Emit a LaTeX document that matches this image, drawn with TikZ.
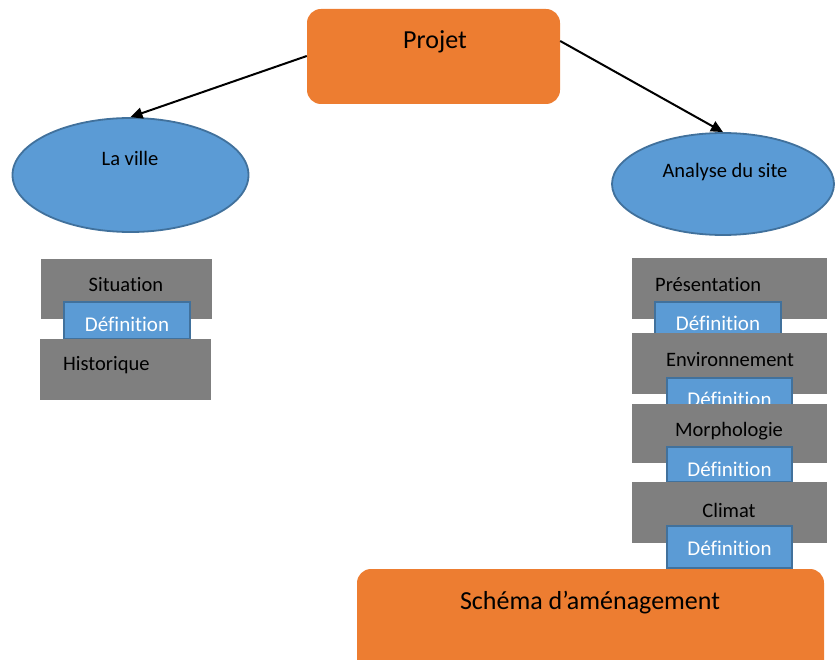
\documentclass[tikz,border=0pt]{standalone}
\usepackage{fontspec}
\setmainfont{Carlito}[Ligatures=NoCommon]
\usetikzlibrary{shapes.geometric,arrows.meta}
\definecolor{orangeF}{HTML}{ED7D31}
\definecolor{blueF}{HTML}{5B9BD5}
\definecolor{blueD}{HTML}{41719C}
\definecolor{grayF}{HTML}{7F7F7F}
\tikzset{
  orangebox/.style={fill=orangeF,draw=none,rounded corners=14pt,inner sep=0pt},
  oval/.style={ellipse,fill=blueF,draw=blueD,line width=1.8pt,inner sep=0pt},
  graybox/.style={fill=grayF,draw=none,inner sep=0pt},
  defbox/.style={fill=blueF,draw=blueD,line width=1.2pt,inner sep=0pt},
  bigtxt/.style={font=\fontsize{26}{30}\selectfont,text=black,inner sep=0pt},
  midtxt/.style={font=\fontsize{20.5}{24}\selectfont,text=black,inner sep=0pt},
  deftxt/.style={font=\fontsize{21}{24}\selectfont,text=white,inner sep=0pt},
  arr/.style={-{Triangle[length=12pt,width=11pt]},line width=2pt,black}
}
\begin{document}
\begin{tikzpicture}[x=1pt,y=-1pt]
\useasboundingbox (0,0) rectangle (835,660);
\begin{scope}
\clip (0,0) rectangle (835,660);
% Projet
\node[orangebox,minimum width=253pt,minimum height=95pt] (projet) at (433.5,56.5) {};
\node[bigtxt] (projett) at (435,42) {Projet};
% ellipses
\node[oval,minimum width=236pt,minimum height=114pt] (ville) at (130.5,175) {};
\node[midtxt] (villet) at (130,158) {La ville};
\node[oval,minimum width=222pt,minimum height=102pt] (site) at (723,184) {};
\node[midtxt] (sitet) at (725,172) {Analyse du site};
% arrows
\draw[arr] (projet.west |- 0,56) -- (ville.north);
\draw[arr] (projet.east |- 0,41) -- (site.north);
% left column
\node[graybox,minimum width=171pt,minimum height=60pt] (situation) at (126.5,289) {};
\node[midtxt] (situationt) at (126,285) {Situation};
\node[defbox,minimum width=126pt,minimum height=37pt] (def0) at (127,320.5) {};
\node[deftxt] (def0t) at (127,324) {Définition};
\node[graybox,minimum width=171pt,minimum height=61pt] (historique) at (125.5,369.5) {};
\node[midtxt,anchor=west] (historiquet) at (63,365) {Historique};
% right column
\node[graybox,minimum width=195pt,minimum height=61pt] (presentation) at (729.5,288.5) {};
\node[midtxt,anchor=west] (presentationt) at (655,285) {Présentation};
\node[defbox,minimum width=126pt,minimum height=36pt] (def1) at (718,320) {};
\node[deftxt] (def1t) at (718,323) {Définition};
\node[graybox,minimum width=195pt,minimum height=61pt] (environnement) at (729.5,363.5) {};
\node[midtxt] (environnementt) at (730,360) {Environnement};
\node[defbox,minimum width=125pt,minimum height=36pt] (def2) at (729.5,396) {};
\node[deftxt] (def2t) at (729.5,399) {Définition};
\node[graybox,minimum width=195pt,minimum height=59pt] (morphologie) at (729.5,433.5) {};
\node[midtxt] (morphologiet) at (729,431) {Morphologie};
\node[defbox,minimum width=125pt,minimum height=35pt] (def3) at (729.5,464.5) {};
\node[deftxt] (def3t) at (729.5,469) {Définition};
\node[graybox,minimum width=195pt,minimum height=61pt] (climat) at (729.5,512.5) {};
\node[midtxt] (climatt) at (729,510) {Climat};
\node[defbox,minimum width=125pt,minimum height=42pt] (def4) at (729.5,547) {};
\node[deftxt] (def4t) at (729.5,548) {Définition};
% Schema
\node[orangebox,minimum width=467pt,minimum height=120pt] (schema) at (590.5,629) {};
\node[bigtxt] (schemat) at (590,603) {Schéma d’aménagement};
\end{scope}
\end{tikzpicture}
\end{document}
